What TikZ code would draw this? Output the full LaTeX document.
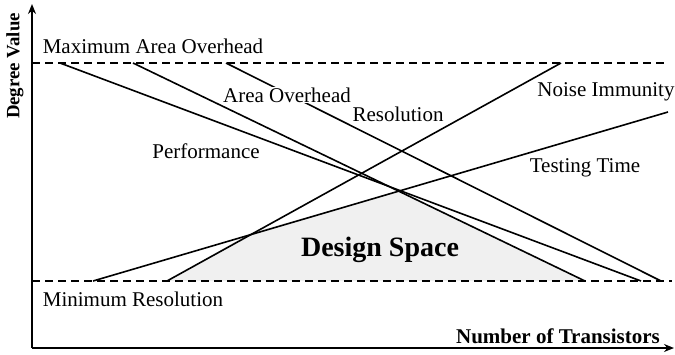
\documentclass[tikz,border=0pt]{standalone}
\usepackage{fontspec}
\setmainfont{Liberation Serif}
\usetikzlibrary{arrows.meta}

\begin{document}
\begin{tikzpicture}[x=1pt,y=-1pt,line width=1.6pt,
  lbl/.style={font=\fontsize{21}{24}\selectfont},
  axlbl/.style={font=\fontsize{21}{24}\selectfont\bfseries},
  limit/.style={dashed,dash pattern=on 8pt off 5pt,line width=1.3pt}]
\useasboundingbox (0,0) rectangle (675,354);

% corners of the axes
\coordinate (o) at (32,348);
\coordinate (ytop) at (32,4);
\coordinate (xend) at (674,348);

% the two limits
\coordinate (maxL) at (32,63);   \coordinate (maxR) at (668,63);
\coordinate (minL) at (32,281);  \coordinate (minR) at (672,281);

% end points of the curves
\coordinate (perfA) at (60,63);   \coordinate (perfB) at (641,281);
\coordinate (areaA) at (133,63);  \coordinate (areaB) at (585,281);
\coordinate (resA) at (226,63);   \coordinate (resB) at (661,281);
\coordinate (noiseA) at (167,281); \coordinate (noiseB) at (561,63);
\coordinate (testA) at (93,281);  \coordinate (testB) at (668,112);

% design space
\coordinate (ds1) at (250,233);
\coordinate (ds2) at (400,191);
\fill[black!6] (noiseA) -- (ds1) -- (ds2) -- (areaB) -- cycle;

\draw[limit] (maxL) -- (maxR);
\draw[limit] (minL) -- (minR);

\draw (perfA) -- (perfB);
\draw (areaA) -- (areaB);
\draw (resA) -- (resB);
\draw (noiseA) -- (noiseB);
\draw (testA) -- (testB);

\draw[-{Stealth[length=10pt,width=8pt]}] (o) -- (ytop);
\draw[-{Stealth[length=10pt,width=8pt]}] (o) -- (xend);

\node[lbl] (maxtxt) at (153,46) {Maximum Area Overhead};
\node[lbl,fill=white,inner sep=1pt] (areatxt) at (287,95) {Area Overhead};
\node[lbl] (restxt) at (398,114) {Resolution};
\node[lbl] (noisetxt) at (606,92) {Noise Immunity};
\node[lbl] (perftxt) at (206,151) {Performance};
\node[lbl] (testtxt) at (585,168) {Testing Time};
\node[lbl] (mintxt) at (133,299) {Minimum Resolution};
\node[font=\fontsize{28}{32}\selectfont\bfseries] (dstxt) at (380,250) {Design Space};
\node[axlbl] (xtxt) at (558,336) {Number of Transistors};
\node[rotate=90,font=\fontsize{18.8}{22}\selectfont\bfseries] (ytxt) at (15,66) {Degree Value};
\end{tikzpicture}
\end{document}
